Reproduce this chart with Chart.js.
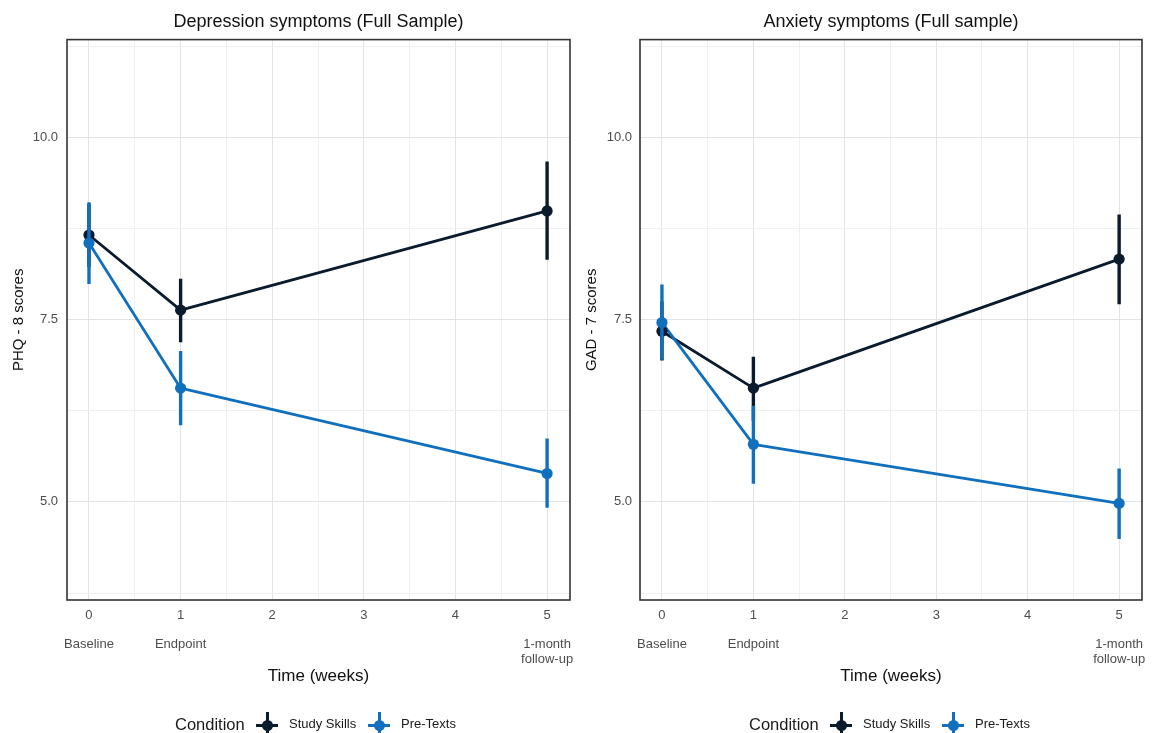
<!DOCTYPE html>
<html><head><meta charset="utf-8">
<script src="https://cdn.jsdelivr.net/npm/chart.js@4.4.1/dist/chart.umd.min.js"></script>
<style>
body{margin:0;width:1162px;height:733px;overflow:hidden;background:#fff;font-family:"Liberation Sans",Arial,sans-serif;position:relative}
canvas{position:absolute;top:0}
.lt{position:absolute;top:714px;height:20px;line-height:20px;white-space:nowrap;color:#1a1a1a}
.key{position:absolute;top:712px;width:22px;height:26px}
.key .h{position:absolute;left:0;top:11.5px;width:22px;height:3px}
.key .v{position:absolute;left:9.5px;top:0;width:3px;height:26px}
.key .d{position:absolute;left:5.5px;top:7.5px;width:11px;height:11px;border-radius:50%}
</style>
</head><body>
<canvas id="c1" width="581" height="733" style="left:0"></canvas>
<canvas id="c2" width="581" height="733" style="left:581px"></canvas>
<div id="legends"></div>
<script>
// ---- data ----
const timeWeeks = [0, 1, 5];
const timeLabelLines = [["Baseline"], ["Endpoint"], ["1-month", "follow-up"]];
const xTickValues = [0, 0.5, 1, 1.5, 2, 2.5, 3, 3.5, 4, 4.5, 5];
const xMajorTicks = [0, 1, 2, 3, 4, 5];
const xMajorLabels = ["0", "1", "2", "3", "4", "5"];
const yTickValues = [3.75, 5, 6.25, 7.5, 8.75, 10, 11.25];
const yMajorTicks = [5, 7.5, 10];
const yMajorLabels = ["5.0", "7.5", "10.0"];
const seriesNames = ["Study Skills", "Pre-Texts"];
const legendTitle = "Condition";

const depSSMean = [8.66, 7.63, 8.99];
const depSSLow  = [8.22, 7.19, 8.32];
const depSSHigh = [9.09, 8.06, 9.67];
const depPTMean = [8.55, 6.56, 5.39];
const depPTLow  = [7.99, 6.05, 4.92];
const depPTHigh = [9.11, 7.07, 5.87];

const anxSSMean = [7.34, 6.56, 8.33];
const anxSSLow  = [6.94, 6.11, 7.71];
const anxSSHigh = [7.75, 6.99, 8.94];
const anxPTMean = [7.46, 5.79, 4.98];
const anxPTLow  = [6.95, 5.25, 4.49];
const anxPTHigh = [7.98, 6.32, 5.46];

// ---- style ----
const FONT = "'Liberation Sans', Arial, sans-serif";
const SS_COLOR = "#0a1b2e";
const PT_COLOR = "#1170be";
Chart.defaults.font.family = FONT;

function pts(means) { return timeWeeks.map((t, i) => ({x: t, y: means[i]})); }
function bars(lo, hi) {
  const out = [];
  timeWeeks.forEach((t, i) => { out.push({x: t, y: lo[i]}, {x: t, y: hi[i]}, {x: t, y: null}); });
  return out;
}
function lineDs(data, color, order) {
  return {data, borderColor: color, backgroundColor: color, borderWidth: 2.8, pointRadius: 0, showLine: true, order, borderJoinStyle: 'round', borderCapStyle: 'round'};
}
function barDs(data, color, order) {
  return {data, borderColor: color, backgroundColor: color, borderWidth: 3.4, pointRadius: 0, showLine: true, spanGaps: false, order, borderCapStyle: 'butt'};
}
function ptDs(data, color, order) {
  return {data, borderColor: color, backgroundColor: color, borderWidth: 0, pointRadius: 5.6, showLine: false, order};
}

const borderPlugin = {
  id: 'panelBorder',
  afterDatasetsDraw(chart) {
    const a = chart.chartArea, c = chart.ctx;
    c.save(); c.strokeStyle = '#333'; c.lineWidth = 1.6;
    c.strokeRect(a.left, a.top, a.right - a.left, a.bottom - a.top);
    c.restore();
  }
};

function isIn(arr, v) { return arr.some(a => Math.abs(a - v) < 1e-9); }

function makeChart(id, p) {
  return new Chart(document.getElementById(id), {
    type: 'line',
    data: {datasets: [
      lineDs(pts(p.ssMean), SS_COLOR, 6),
      lineDs(pts(p.ptMean), PT_COLOR, 5),
      barDs(bars(p.ssLow, p.ssHigh), SS_COLOR, 4),
      ptDs(pts(p.ssMean), SS_COLOR, 3),
      barDs(bars(p.ptLow, p.ptHigh), PT_COLOR, 2),
      ptDs(pts(p.ptMean), PT_COLOR, 1)
    ]},
    options: {
      responsive: false, animation: false, devicePixelRatio: 1,
      parsing: true,
      layout: {padding: {left: 0, right: p.padRight, top: 0, bottom: 43}},
      plugins: {
        legend: {display: false}, tooltip: {enabled: false},
        title: {display: true, text: p.title, fullSize: false, color: '#111',
                font: {size: 18, family: FONT, weight: 'normal'}, padding: {top: 11, bottom: 7}}
      },
      scales: {
        x: {
          type: 'linear', min: -0.24, max: 5.25,
          afterBuildTicks: s => { s.ticks = xTickValues.map(v => ({value: v})); },
          afterFit: s => { s.height = 90; s.paddingLeft = 0; s.paddingRight = 0; },
          border: {display: false},
          grid: {drawTicks: false, lineWidth: 1,
                 color: c => (c.tick && isIn(xMajorTicks, c.tick.value)) ? '#e3e3e3' : '#f0f0f0'},
          ticks: {autoSkip: false, maxRotation: 0, minRotation: 0, padding: 8, color: '#4d4d4d',
                  font: {size: 13, lineHeight: 1.12},
                  callback: v => {
                    const k = xMajorTicks.findIndex(m => Math.abs(m - v) < 1e-9);
                    if (k < 0) return '';
                    const ti = timeWeeks.indexOf(xMajorTicks[k]);
                    return ti >= 0 ? [xMajorLabels[k], ''].concat(timeLabelLines[ti]) : xMajorLabels[k];
                  }},
          title: {display: true, text: 'Time (weeks)', color: '#111', font: {size: 17}, padding: {top: 0, bottom: 3}}
        },
        y: {
          type: 'linear', min: 3.655, max: 11.34,
          afterBuildTicks: s => { s.ticks = yTickValues.map(v => ({value: v})); },
          afterFit: s => { s.width = p.yWidth; s.paddingTop = 0; s.paddingBottom = 0; },
          border: {display: false},
          grid: {drawTicks: false, lineWidth: 1,
                 color: c => (c.tick && isIn(yMajorTicks, c.tick.value)) ? '#e3e3e3' : '#f0f0f0'},
          ticks: {padding: p.yTickPad, color: '#4d4d4d', font: {size: 13},
                  callback: v => { const k = yMajorTicks.findIndex(m => Math.abs(m - v) < 1e-9); return k < 0 ? '' : yMajorLabels[k]; }},
          title: {display: true, text: p.yTitle, color: '#111', font: {size: 15}, padding: {top: p.yTitlePad, bottom: 0}}
        }
      }
    },
    plugins: [borderPlugin]
  });
}

makeChart('c1', {title: 'Depression symptoms (Full Sample)', yTitle: 'PHQ - 8 scores',
  ssMean: depSSMean, ssLow: depSSLow, ssHigh: depSSHigh, ptMean: depPTMean, ptLow: depPTLow, ptHigh: depPTHigh,
  padRight: 11, yWidth: 67, yTickPad: 9, yTitlePad: 10});
makeChart('c2', {title: 'Anxiety symptoms (Full sample)', yTitle: 'GAD - 7 scores',
  ssMean: anxSSMean, ssLow: anxSSLow, ssHigh: anxSSHigh, ptMean: anxPTMean, ptLow: anxPTLow, ptHigh: anxPTHigh,
  padRight: 20, yWidth: 59, yTickPad: 8, yTitlePad: 2});

// ---- legends (HTML) ----
const L = document.getElementById('legends');
function addText(txt, left, size) {
  const d = document.createElement('div'); d.className = 'lt'; d.textContent = txt;
  d.style.left = left + 'px'; d.style.fontSize = size + 'px'; L.appendChild(d);
}
function addKey(center, color) {
  const k = document.createElement('div'); k.className = 'key'; k.style.left = (center - 11) + 'px';
  ['h', 'v', 'd'].forEach(c => { const e = document.createElement('div'); e.className = c; e.style.background = color; k.appendChild(e); });
  L.appendChild(k);
}
[0, 574].forEach(off => {
  addText(legendTitle, 175 + off, 16.5);
  addKey(267 + off, SS_COLOR);
  addText(seriesNames[0], 289 + off, 13);
  addKey(379 + off, PT_COLOR);
  addText(seriesNames[1], 401 + off, 13);
});
</script>
</body></html>
